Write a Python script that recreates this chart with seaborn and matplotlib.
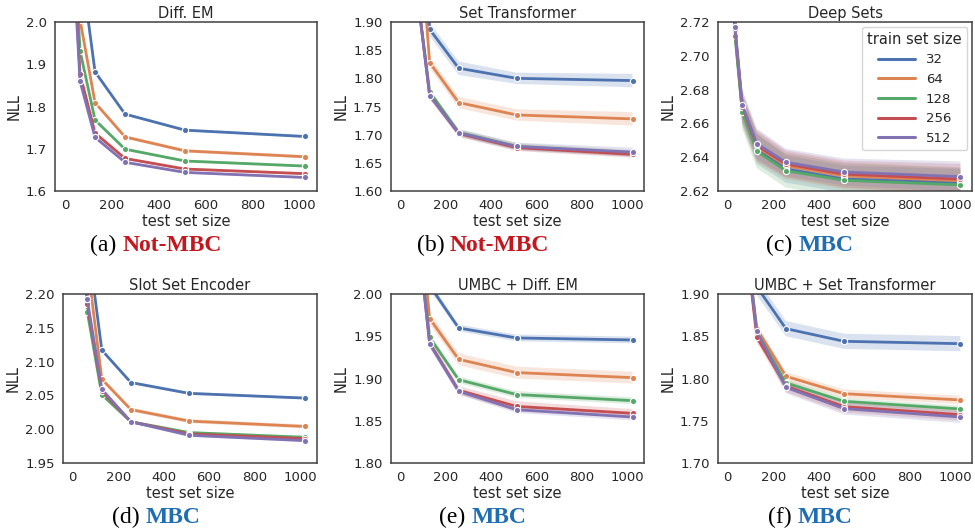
import matplotlib
matplotlib.use("Agg")
import matplotlib.pyplot as plt
from matplotlib.lines import Line2D
import numpy as np
import pandas as pd
import seaborn as sns

# ---------------- data ----------------
test_sizes = [8, 16, 32, 64, 128, 256, 512, 1024]
train_sizes = ["32", "64", "128", "256", "512"]

# (a) Diff. EM  -- rows: train size 32, 64, 128, 256, 512
diffem_nll = [
    [3.20, 2.80, 2.45, 2.150, 1.882, 1.782, 1.744, 1.729],
    [3.10, 2.70, 2.35, 2.005, 1.809, 1.728, 1.695, 1.681],
    [3.00, 2.60, 2.25, 1.932, 1.768, 1.699, 1.671, 1.659],
    [3.00, 2.60, 2.20, 1.877, 1.737, 1.677, 1.652, 1.641],
    [3.00, 2.60, 2.18, 1.860, 1.727, 1.668, 1.644, 1.632],
]
diffem_err = [
    [0.01, 0.01, 0.01, 0.004, 0.003, 0.003, 0.003, 0.003],
    [0.01, 0.01, 0.01, 0.004, 0.003, 0.004, 0.004, 0.004],
    [0.01, 0.01, 0.01, 0.004, 0.003, 0.003, 0.003, 0.003],
    [0.01, 0.01, 0.01, 0.004, 0.003, 0.003, 0.003, 0.003],
    [0.01, 0.01, 0.01, 0.004, 0.003, 0.003, 0.003, 0.003],
]

# (b) Set Transformer
settr_nll = [
    [3.00, 2.70, 2.45, 2.30, 1.887, 1.818, 1.800, 1.796],
    [3.00, 2.60, 2.40, 2.16, 1.828, 1.757, 1.735, 1.728],
    [2.90, 2.50, 2.30, 1.98, 1.776, 1.704, 1.679, 1.667],
    [2.90, 2.50, 2.30, 1.98, 1.770, 1.702, 1.677, 1.665],
    [2.90, 2.50, 2.30, 1.98, 1.769, 1.703, 1.679, 1.669],
]
settr_err = [
    [0.02, 0.02, 0.02, 0.015, 0.012, 0.012, 0.010, 0.012],
    [0.02, 0.02, 0.02, 0.012, 0.010, 0.010, 0.010, 0.012],
    [0.02, 0.02, 0.02, 0.008, 0.006, 0.006, 0.006, 0.006],
    [0.02, 0.02, 0.02, 0.008, 0.006, 0.006, 0.006, 0.006],
    [0.02, 0.02, 0.02, 0.008, 0.006, 0.007, 0.007, 0.008],
]

# (c) Deep Sets
deepsets_nll = [
    [3.20, 2.90, 2.714, 2.668, 2.645, 2.633, 2.627, 2.625],
    [3.20, 2.90, 2.715, 2.668, 2.646, 2.635, 2.629, 2.626],
    [3.20, 2.90, 2.712, 2.6665, 2.6435, 2.632, 2.6263, 2.6236],
    [3.20, 2.90, 2.716, 2.670, 2.647, 2.636, 2.630, 2.627],
    [3.20, 2.90, 2.717, 2.671, 2.648, 2.637, 2.6312, 2.6285],
]
deepsets_err = [
    [0.02, 0.02, 0.006, 0.009, 0.009, 0.008, 0.008, 0.008],
    [0.02, 0.02, 0.006, 0.009, 0.009, 0.008, 0.008, 0.008],
    [0.02, 0.02, 0.006, 0.010, 0.010, 0.010, 0.010, 0.010],
    [0.02, 0.02, 0.006, 0.009, 0.009, 0.008, 0.008, 0.009],
    [0.02, 0.02, 0.006, 0.009, 0.009, 0.008, 0.008, 0.009],
]

# (d) Slot Set Encoder
slot_nll = [
    [3.50, 3.00, 2.60, 2.283, 2.117, 2.069, 2.053, 2.046],
    [3.50, 3.00, 2.55, 2.246, 2.074, 2.029, 2.012, 2.004],
    [3.40, 2.90, 2.45, 2.174, 2.051, 2.011, 1.995, 1.988],
    [3.40, 2.90, 2.45, 2.185, 2.056, 2.011, 1.993, 1.986],
    [3.40, 2.90, 2.45, 2.192, 2.059, 2.011, 1.991, 1.983],
]
slot_err = [
    [0.01, 0.01, 0.01, 0.003, 0.002, 0.002, 0.002, 0.002],
    [0.01, 0.01, 0.01, 0.003, 0.003, 0.003, 0.003, 0.003],
    [0.01, 0.01, 0.01, 0.003, 0.002, 0.002, 0.002, 0.002],
    [0.01, 0.01, 0.01, 0.003, 0.002, 0.002, 0.002, 0.002],
    [0.01, 0.01, 0.01, 0.003, 0.002, 0.002, 0.002, 0.002],
]

# (e) UMBC + Diff. EM
umbc_em_nll = [
    [3.00, 2.70, 2.40, 2.20, 2.010, 1.9598, 1.948, 1.9456],
    [3.00, 2.70, 2.40, 2.15, 1.971, 1.9227, 1.907, 1.901],
    [3.00, 2.60, 2.35, 2.10, 1.9487, 1.8986, 1.881, 1.8738],
    [3.00, 2.60, 2.35, 2.10, 1.942, 1.886, 1.867, 1.8588],
    [3.00, 2.60, 2.35, 2.10, 1.9408, 1.8848, 1.8631, 1.8544],
]
umbc_em_err = [
    [0.01, 0.01, 0.01, 0.006, 0.005, 0.004, 0.004, 0.004],
    [0.01, 0.01, 0.01, 0.008, 0.007, 0.007, 0.007, 0.007],
    [0.01, 0.01, 0.01, 0.005, 0.004, 0.004, 0.004, 0.004],
    [0.01, 0.01, 0.01, 0.006, 0.005, 0.005, 0.006, 0.005],
    [0.01, 0.01, 0.01, 0.005, 0.004, 0.004, 0.004, 0.004],
]

# (f) UMBC + Set Transformer
umbc_st_nll = [
    [3.00, 2.60, 2.30, 2.05, 1.9085, 1.859, 1.844, 1.8412],
    [2.90, 2.50, 2.20, 2.00, 1.859, 1.8026, 1.782, 1.7746],
    [2.90, 2.50, 2.20, 2.00, 1.855, 1.7947, 1.773, 1.7639],
    [2.90, 2.50, 2.20, 2.00, 1.8487, 1.791, 1.7667, 1.7572],
    [2.90, 2.50, 2.20, 2.00, 1.8558, 1.7895, 1.7643, 1.7544],
]
umbc_st_err = [
    [0.02, 0.02, 0.02, 0.012, 0.010, 0.009, 0.009, 0.009],
    [0.02, 0.02, 0.02, 0.008, 0.005, 0.005, 0.005, 0.005],
    [0.02, 0.02, 0.02, 0.008, 0.004, 0.004, 0.004, 0.004],
    [0.02, 0.02, 0.02, 0.008, 0.006, 0.007, 0.007, 0.007],
    [0.02, 0.02, 0.02, 0.008, 0.006, 0.007, 0.007, 0.007],
]

titles = ["Diff. EM", "Set Transformer", "Deep Sets",
          "Slot Set Encoder", "UMBC + Diff. EM", "UMBC + Set Transformer"]
caption_letters = ["a", "b", "c", "d", "e", "f"]
caption_words = ["Not-MBC", "Not-MBC", "MBC", "MBC", "MBC", "MBC"]
ylims = [(1.6, 2.0), (1.6, 1.9), (2.62, 2.72), (1.95, 2.20), (1.80, 2.00), (1.70, 1.90)]
ysteps = [0.1, 0.05, 0.02, 0.05, 0.05, 0.05]
yfmts = ["{:.1f}", "{:.2f}", "{:.2f}", "{:.2f}", "{:.2f}", "{:.2f}"]
all_nll = [diffem_nll, settr_nll, deepsets_nll, slot_nll, umbc_em_nll, umbc_st_nll]
all_err = [diffem_err, settr_err, deepsets_err, slot_err, umbc_em_err, umbc_st_err]

# ---------------- style ----------------
sns.set_style("white")
plt.rcParams["font.family"] = ["DejaVu Sans"]
palette = sns.color_palette("deep", 5)
RED = "#c4161c"
BLUE = "#1f6eb3"

W, H = 975, 529
fig = plt.figure(figsize=(W / 100, H / 100), dpi=100)

# axes rectangles in pixels: left, right, top, bottom
rects_px = [
    (55, 317, 22, 191), (391, 644, 22, 191), (718, 972, 22, 191),
    (63, 317, 294, 463), (391, 644, 294, 463), (718, 972, 294, 463),
]
caption_pos = [(156, 251), (483, 251), (810, 251), (156, 523), (483, 523), (810, 523)]


def long_frame(nll, err):
    rows = []
    for tr, m_row, e_row in zip(train_sizes, nll, err):
        for x, m, e in zip(test_sizes, m_row, e_row):
            rows.append((x, tr, m - e))
            rows.append((x, tr, m + e))
    return pd.DataFrame(rows, columns=["test set size", "train set size", "NLL"])


renderer = fig.canvas.get_renderer()

for i in range(6):
    l, r, t, b = rects_px[i]
    ax = fig.add_axes([l / W, 1 - b / H, (r - l) / W, (b - t) / H])
    df = long_frame(all_nll[i], all_err[i])
    sns.lineplot(data=df, x="test set size", y="NLL", hue="train set size",
                 hue_order=train_sizes, palette=palette, estimator="mean",
                 errorbar=("pi", 100), err_kws={"alpha": 0.2, "linewidth": 0},
                 marker="o", markersize=4.5, markeredgecolor="white",
                 markeredgewidth=0.8, linewidth=2, legend=False, ax=ax)
    lo, hi = ylims[i]
    ax.set_ylim(lo, hi)
    ticks = np.arange(lo, hi + ysteps[i] / 2, ysteps[i])
    ax.set_yticks(ticks)
    ax.set_yticklabels([yfmts[i].format(v) for v in ticks])
    ax.set_xticks([0, 200, 400, 600, 800, 1000])
    ax.tick_params(labelsize=9.5, pad=2.5, colors=".15")
    ax.set_xlabel("test set size", fontsize=10.5, labelpad=1)
    ax.set_ylabel("NLL", fontsize=10.5, labelpad=3)
    ax.set_title(titles[i], fontsize=10.5, pad=3)
    for s in ax.spines.values():
        s.set_color(".25")
        s.set_linewidth(1.1)

    if i == 2:
        handles = [Line2D([], [], color=c, linewidth=2.2) for c in palette]
        leg = ax.legend(handles, train_sizes, title="train set size", loc="upper right",
                        fontsize=9.5, title_fontsize=10.5, handlelength=2.8,
                        borderaxespad=0.35, labelspacing=0.5, frameon=True)
        leg.get_frame().set_edgecolor("0.8")

    # caption
    xc, yb = caption_pos[i]
    color = RED if caption_words[i] == "Not-MBC" else BLUE
    fs = 17
    t1 = fig.text(0, 1 - yb / H, f"({caption_letters[i]})", fontsize=fs,
                  family="Liberation Serif", va="baseline", ha="left", color="black")
    t2 = fig.text(0, 1 - yb / H, caption_words[i], fontsize=fs,
                  family="Liberation Serif", weight="bold", va="baseline", ha="left",
                  color=color)
    w1 = t1.get_window_extent(renderer).width
    w2 = t2.get_window_extent(renderer).width
    gap = 0.25 * fs * 100 / 72
    x0 = xc - (w1 + gap + w2) / 2
    t1.set_x(x0 / W)
    t2.set_x((x0 + w1 + gap) / W)

fig.savefig("out.png", dpi=100)
